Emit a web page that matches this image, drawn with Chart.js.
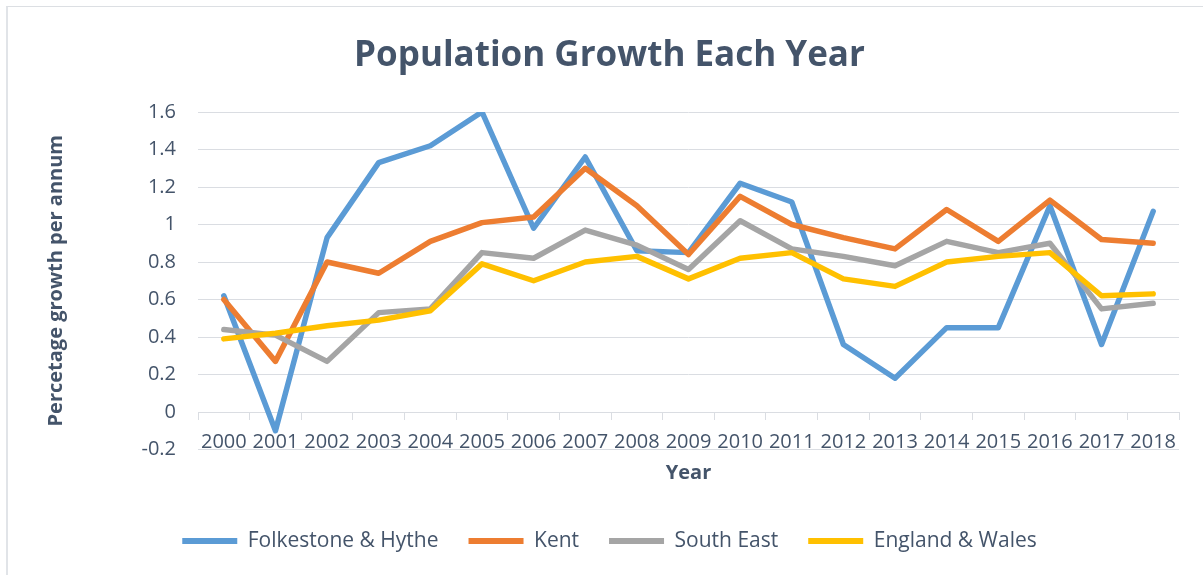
<!DOCTYPE html>
<html lang="en">
<head>
  <meta charset="UTF-8" />
  <title>Population Growth Each Year</title>
  <script src="https://cdn.jsdelivr.net/npm/chart.js"></script>
  <style>
    * {
      margin: 0;
      padding: 0;
      box-sizing: border-box;
    }

    body {
      background: #ffffff;
      font-family: 'Open Sans', sans-serif;
    }

    .frame {
      position: absolute;
      left: 6px;
      top: 6px;
      right: 0;
      bottom: 0;
      border-top: 1px solid #dcdfe3;
      border-left: 2px solid #e1e4e8;
    }

    .chart-box {
      position: absolute;
      left: 0;
      top: 0;
      width: 1203px;
      height: 575px;
    }
  </style>
</head>
<body>
  <div class="frame"></div>
  <div class="chart-box">
    <canvas id="growthChart"></canvas>
  </div>

  <script>
    const years = ['2000', '2001', '2002', '2003', '2004', '2005', '2006', '2007', '2008', '2009',
                   '2010', '2011', '2012', '2013', '2014', '2015', '2016', '2017', '2018'];

    const folkestone = [0.62, -0.10, 0.93, 1.33, 1.42, 1.60, 0.98, 1.36, 0.86, 0.85,
                        1.22, 1.12, 0.36, 0.18, 0.45, 0.45, 1.10, 0.36, 1.07];
    const kent       = [0.60, 0.27, 0.80, 0.74, 0.91, 1.01, 1.04, 1.30, 1.10, 0.84,
                        1.15, 1.00, 0.93, 0.87, 1.08, 0.91, 1.13, 0.92, 0.90];
    const southEast  = [0.44, 0.41, 0.27, 0.53, 0.55, 0.85, 0.82, 0.97, 0.89, 0.76,
                        1.02, 0.87, 0.83, 0.78, 0.91, 0.85, 0.90, 0.55, 0.58];
    const englandWales = [0.39, 0.42, 0.46, 0.49, 0.54, 0.79, 0.70, 0.80, 0.83, 0.71,
                          0.82, 0.85, 0.71, 0.67, 0.80, 0.83, 0.85, 0.62, 0.63];

    const yTicks = [-0.2, 0, 0.2, 0.4, 0.6, 0.8, 1, 1.2, 1.4, 1.6];
    const yTickLabels = ['-0.2', '0', '0.2', '0.4', '0.6', '0.8', '1', '1.2', '1.4', '1.6'];

    const textColor = '#44546a';
    const gridColor = '#dadde2';

    function series(label, data, color, order) {
      return {
        label: label,
        data: data,
        xAxisID: 'x',
        yAxisID: 'y',
        borderColor: color,
        backgroundColor: color,
        borderWidth: 5.5,
        pointRadius: 0,
        pointHoverRadius: 0,
        tension: 0,
        borderJoinStyle: 'round',
        borderCapStyle: 'round',
        order: order
      };
    }

    const ctx = document.getElementById('growthChart').getContext('2d');

    const growthChart = new Chart(ctx, {
      type: 'line',
      data: {
        labels: years,
        datasets: [
          series('Folkestone & Hythe', folkestone, '#5b9bd5', 4),
          series('Kent', kent, '#ed7d31', 3),
          series('South East', southEast, '#a5a5a5', 2),
          series('England & Wales', englandWales, '#ffc000', 1)
        ]
      },
      options: {
        responsive: true,
        maintainAspectRatio: false,
        animation: false,
        layout: {
          padding: { left: 40, right: 24, top: 0, bottom: 13.5 }
        },
        plugins: {
          tooltip: { enabled: false },
          title: {
            display: true,
            text: 'Population Growth Each Year',
            color: textColor,
            font: { family: 'Open Sans', size: 35, weight: 'bold' },
            padding: { top: 35, bottom: 35 }
          },
          legend: {
            position: 'bottom',
            labels: {
              color: textColor,
              font: { family: 'Open Sans', size: 21 },
              boxWidth: 55,
              boxHeight: 6,
              useBorderRadius: true,
              borderRadius: 3,
              padding: 30,
              generateLabels: (chart) => chart.data.datasets.map((ds, i) => ({
                text: ds.label,
                fillStyle: ds.borderColor,
                strokeStyle: ds.borderColor,
                lineWidth: 0,
                fontColor: textColor,
                datasetIndex: i
              }))
            }
          }
        },
        scales: {
          x: {
            position: { y: 0 },
            offset: true,
            grid: {
              offset: true,
              drawOnChartArea: false,
              drawTicks: true,
              tickLength: 7,
              color: gridColor
            },
            border: { display: true, color: gridColor, width: 1 },
            ticks: {
              color: textColor,
              font: { family: 'Open Sans', size: 20 },
              padding: 11,
              autoSkip: false,
              maxRotation: 0
            },
            title: {
              display: true,
              text: 'Year',
              color: textColor,
              font: { family: 'Open Sans', size: 20, weight: 'bold' },
              padding: { top: 0, bottom: -29 }
            },
            afterFit: (scale) => { scale.height = 44.5; }
          },
          // empty bottom axis, only keeps room between the plot and the legend
          spacer: {
            type: 'category',
            axis: 'x',
            position: 'bottom',
            grid: { display: false },
            border: { display: false },
            ticks: { display: false },
            afterFit: (scale) => { scale.height = 51; }
          },
          y: {
            min: -0.2,
            max: 1.6,
            afterBuildTicks: (scale) => { scale.ticks = yTicks.map(v => ({ value: v })); },
            grid: {
              color: gridColor,
              lineWidth: 1,
              drawTicks: false
            },
            border: { display: false },
            ticks: {
              color: textColor,
              font: { family: 'Open Sans', size: 20 },
              padding: 22,
              callback: (value) => yTickLabels[yTicks.findIndex(t => Math.abs(t - value) < 1e-9)]
            },
            title: {
              display: true,
              text: 'Percetage growth per annum',
              color: textColor,
              font: { family: 'Open Sans', size: 20, weight: 'bold' },
              padding: { top: 4, bottom: 0 }
            },
            afterFit: (scale) => { scale.width = 158; }
          }
        }
      }
    });
  </script>
</body>
</html>
